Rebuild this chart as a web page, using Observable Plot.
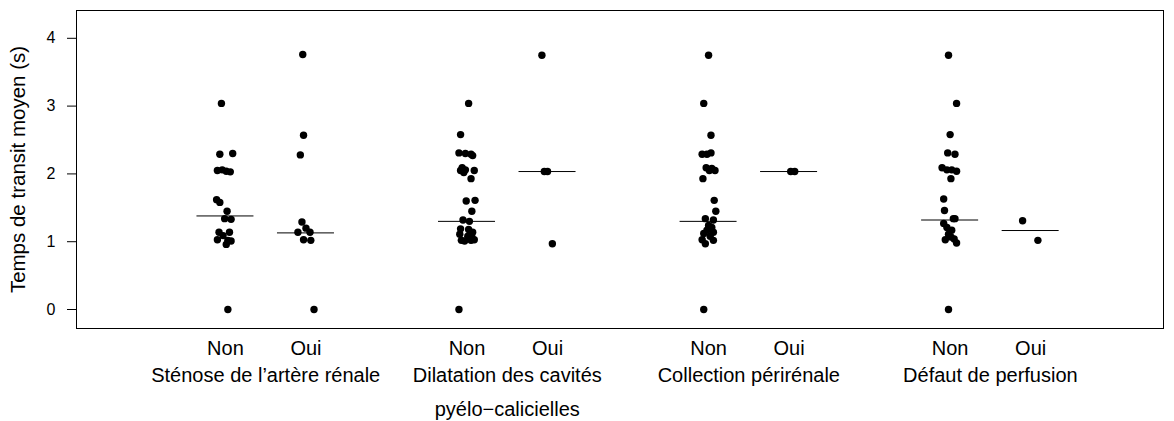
<!DOCTYPE html>
<html>
<head>
<meta charset="utf-8">
<script src="https://cdn.jsdelivr.net/npm/d3@7"></script>
<script src="https://cdn.jsdelivr.net/npm/@observablehq/plot@0.6"></script>
<style>
  html, body { margin: 0; padding: 0; background: #fff; }
  #chart svg { display: block; }
</style>
</head>
<body>
<div id="chart"></div>
<script>
// Groups (variables) and levels
const groups = [
  "Sténose de l’artère rénale",
  "Dilatation des cavités\npyélo−calicielles",
  "Collection périrénale",
  "Défaut de perfusion"
];
const levels = ["Non", "Oui"];
const yTicks = [0, 1, 2, 3, 4];
const yLabel = "Temps de transit moyen (s)";

// Mean transit time values (s) per group/level, with horizontal jitter
const g1Non = [3.04, 2.29, 2.30, 2.05, 2.06, 2.04, 2.03, 1.62, 1.58, 1.45, 1.34, 1.33, 1.14, 1.14, 1.09, 1.03, 1.02, 1.01, 0.96, 0];
const g1NonJ = [-0.05, -0.07, 0.09, -0.10, -0.04, 0.01, 0.06, -0.11, -0.07, 0.02, -0.01, 0.07, -0.08, 0.05, -0.03, -0.10, 0.03, 0.07, 0.01, 0.03];
const g1Oui = [3.76, 2.57, 2.28, 1.29, 1.20, 1.14, 1.14, 1.03, 1.02, 0];
const g1OuiJ = [-0.04, -0.03, -0.07, -0.05, 0.00, -0.10, 0.05, -0.03, 0.06, 0.10];

const g2Non = [3.04, 2.58, 2.31, 2.30, 2.29, 2.27, 2.09, 2.06, 2.05, 2.05, 2.02, 1.93, 1.60, 1.61, 1.45, 1.32, 1.30, 1.19, 1.18, 1.14, 1.11, 1.08, 1.07, 1.02, 1.01, 1.02, 1.03, 0];
const g2NonJ = [0.02, -0.08, -0.10, -0.02, 0.05, 0.07, -0.06, -0.02, 0.09, -0.08, -0.04, 0.05, -0.01, 0.10, 0.06, -0.05, 0.03, -0.08, 0.02, 0.07, -0.09, 0.01, 0.06, -0.07, -0.03, 0.05, 0.09, -0.10];
const g2Oui = [3.75, 2.035, 2.035, 0.97];
const g2OuiJ = [-0.07, -0.04, 0.00, 0.06];

const g3Non = [3.75, 3.04, 2.57, 2.29, 2.29, 2.31, 2.09, 2.08, 2.05, 2.05, 1.93, 1.61, 1.45, 1.34, 1.32, 1.24, 1.21, 1.17, 1.14, 1.12, 1.08, 1.03, 0.97, 1.02, 0];
const g3NonJ = [0.00, -0.06, 0.03, -0.08, -0.02, 0.03, -0.03, 0.04, 0.08, 0.01, -0.07, 0.07, 0.09, -0.04, 0.06, 0.00, 0.04, -0.02, 0.06, -0.06, 0.02, -0.08, -0.04, 0.06, -0.06];
const g3Oui = [2.035, 2.035];
const g3OuiJ = [0.02, 0.07];

const g4Non = [3.75, 3.04, 2.58, 2.31, 2.29, 2.09, 2.06, 2.06, 2.04, 1.93, 1.63, 1.46, 1.34, 1.34, 1.27, 1.21, 1.17, 1.11, 1.07, 1.04, 1.03, 0.98, 0];
const g4NonJ = [-0.02, 0.08, 0.00, -0.03, 0.06, -0.10, -0.04, 0.02, 0.08, 0.01, -0.08, -0.07, 0.04, 0.06, -0.08, -0.04, 0.02, -0.02, 0.01, 0.05, -0.06, 0.08, -0.02];
const g4Oui = [1.31, 1.02];
const g4OuiJ = [-0.10, 0.09];

// Medians drawn as horizontal segments
const mediansNon = [1.38, 1.30, 1.30, 1.32];
const mediansOui = [1.13, 2.035, 2.035, 1.165];

// ---- build tables ----
const series = [
  [g1Non, g1NonJ, g1Oui, g1OuiJ],
  [g2Non, g2NonJ, g2Oui, g2OuiJ],
  [g3Non, g3NonJ, g3Oui, g3OuiJ],
  [g4Non, g4NonJ, g4Oui, g4OuiJ]
];
const pos = (g, l) => 1 + 3 * g + l;
const points = [];
series.forEach(([nv, nj, ov, oj], g) => {
  nv.forEach((v, i) => points.push({g, l: 0, v, x: pos(g, 0) + nj[i]}));
  ov.forEach((v, i) => points.push({g, l: 1, v, x: pos(g, 1) + oj[i]}));
});
const medians = [];
groups.forEach((_, g) => {
  medians.push({x: pos(g, 0), v: mediansNon[g]});
  medians.push({x: pos(g, 1), v: mediansOui[g]});
});
const levelLabels = [];
groups.forEach((_, g) => levels.forEach((lab, l) => levelLabels.push({x: pos(g, l), lab})));
const groupLabels = groups.map((lab, g) => ({x: pos(g, 0) + 0.5, lab}));

const halfW = 0.354;
const font = "'Liberation Sans', Arial, Helvetica, sans-serif";

const chart = Plot.plot({
  width: 1174,
  height: 421,
  marginLeft: 76,
  marginRight: 11,
  marginTop: 10,
  marginBottom: 93,
  style: {fontFamily: font, background: "#fff", color: "#000"},
  x: {type: "linear", domain: [-0.85, 12.65], axis: null},
  y: {domain: [-0.28, 4.41], axis: null},
  marks: [
    Plot.frame({stroke: "#000", strokeWidth: 1}),
    Plot.axisY({ticks: yTicks, tickSize: 9, tickPadding: 12, fontSize: 16, label: null, tickFormat: d => String(d)}),
    Plot.text([yLabel], {frameAnchor: "left", rotate: -90, dx: -58, textAnchor: "middle", lineAnchor: "middle", fontSize: 20.5, fill: "#000"}),
    Plot.ruleY(medians, {y: "v", x1: d => d.x - halfW, x2: d => d.x + halfW, stroke: "#000", strokeWidth: 1}),
    Plot.dot(points, {x: "x", y: "v", r: 3.7, fill: "#000", stroke: "none"}),
    Plot.text(levelLabels, {x: "x", text: "lab", frameAnchor: "bottom", dy: 20, lineAnchor: "middle", fontSize: 20, fill: "#000"}),
    Plot.text(groupLabels, {x: "x", text: "lab", frameAnchor: "bottom", dy: 29, lineAnchor: "top", lineHeight: 1.7, fontSize: 20, fill: "#000"})
  ]
});
document.getElementById("chart").appendChild(chart);
</script>
</body>
</html>
